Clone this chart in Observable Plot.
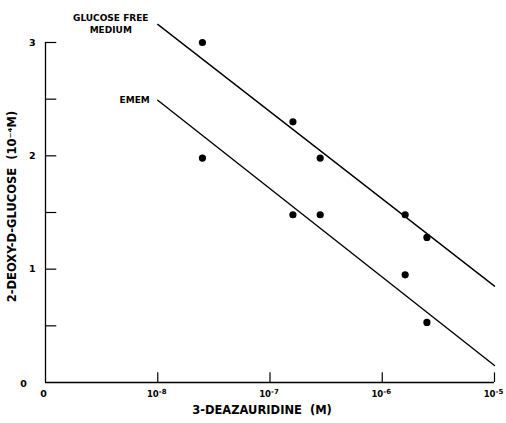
<!DOCTYPE html>
<html>
<head>
<meta charset="utf-8">
<script src="https://cdn.jsdelivr.net/npm/d3@7"></script>
<script src="https://cdn.jsdelivr.net/npm/@observablehq/plot@0.6"></script>
<style>
  html, body { margin: 0; padding: 0; background: #fff; }
  svg { display: block; }
</style>
</head>
<body>
<div id="chart"></div>
<script>
// ---- data ----
const concentrations = [2.5e-8, 1.6e-7, 2.8e-7, 1.6e-6, 2.5e-6];
const glucoseFree = [3.0, 2.3, 1.98, 1.48, 1.28];
const emem = [1.98, 1.48, 1.48, 0.95, 0.53];

const fitX = [1e-8, 1e-5];
const glucoseFreeFit = [3.16, 0.85];
const ememFit = [2.49, 0.15];

const seriesNames = ["GLUCOSE FREE\nMEDIUM", "EMEM"];

const zeroX = 1e-9;
const xTickValues = [1e-8, 1e-7, 1e-6, 1e-5];
const xTickBase = ["10", "10", "10", "10"];
const xTickExponent = ["-8", "-7", "-6", "-5"];
const yTickValues = [0.5, 1, 1.5, 2, 2.5, 3];
const yLabelValues = [1, 2, 3];
const yLabelTexts = ["1", "2", "3"];
const zeroLabel = "0";

const xTitle = "3-DEAZAURIDINE  (M)";
const yTitle = "2-DEOXY-D-GLUCOSE  (10⁻⁴M)";

// ---- tables built from arrays ----
const points = [];
concentrations.forEach((c, i) => {
  points.push({x: c, y: glucoseFree[i], s: seriesNames[0]});
  points.push({x: c, y: emem[i], s: seriesNames[1]});
});
const fits = [];
fitX.forEach((c, i) => {
  fits.push({x: c, y: glucoseFreeFit[i], s: seriesNames[0]});
  fits.push({x: c, y: ememFit[i], s: seriesNames[1]});
});
const starts = [
  {x: fitX[0], y: glucoseFreeFit[0], s: seriesNames[0]},
  {x: fitX[0], y: ememFit[0], s: seriesNames[1]}
];
const xTicks = xTickValues.map((v, i) => ({v, b: xTickBase[i], e: xTickExponent[i]}));
const yLabels = yLabelValues.map((v, i) => ({v, t: yLabelTexts[i]}));

const chart = Plot.plot({
  width: 506,
  height: 423,
  marginLeft: 45,
  marginRight: 12,
  marginTop: 42,
  marginBottom: 41,
  x: {type: "log", domain: [zeroX, 1e-5], axis: null},
  y: {domain: [0, 3], axis: null},
  style: {fontFamily: "'DejaVu Sans', sans-serif", color: "#000", background: "#fff"},
  marks: [
    // axis lines
    Plot.ruleY([0], {stroke: "#000", strokeWidth: 1.3}),
    Plot.ruleX([zeroX], {y1: 0, y2: 3, stroke: "#000", strokeWidth: 1.3}),
    // inward ticks
    Plot.ruleX(xTickValues, {x: d => d, y1: 0, y2: 0.085, stroke: "#000", strokeWidth: 1.2}),
    Plot.ruleY(yTickValues, {y: d => d, x1: zeroX, x2: 1.26e-9, stroke: "#000", strokeWidth: 1.2}),
    // x tick labels: base and raised exponent
    Plot.text(xTicks, {x: "v", y: 0, text: "b", dy: 12, dx: 1, textAnchor: "end", fontSize: 8.5, fontWeight: "bold"}),
    Plot.text(xTicks, {x: "v", y: 0, text: "e", dy: 9, dx: 1, textAnchor: "start", fontSize: 7, fontWeight: "bold"}),
    Plot.text([zeroLabel], {x: zeroX, y: 0, text: d => d, dy: 11, dx: -2, fontSize: 9.5, fontWeight: "bold"}),
    // y tick labels
    Plot.text(yLabels, {x: zeroX, y: "v", text: "t", dx: -10, textAnchor: "end", fontSize: 9.5, fontWeight: "bold"}),
    Plot.text([zeroLabel], {x: zeroX, y: 0, text: d => d, dx: -22, dy: 1, fontSize: 9.5, fontWeight: "bold"}),
    // axis titles
    Plot.text([xTitle], {frameAnchor: "bottom", text: d => d, dy: 31, dx: -8, fontSize: 11.5, fontWeight: "bold"}),
    Plot.text([yTitle], {frameAnchor: "left", textAnchor: "middle", text: d => d, rotate: -90, dx: -33, dy: -6, fontSize: 11.5, fontWeight: "bold"}),
    // fitted lines
    Plot.line(fits, {x: "x", y: "y", z: "s", stroke: "#000", strokeWidth: 1.4}),
    // data points
    Plot.dot(points, {x: "x", y: "y", r: 3.6, fill: "#000", stroke: "none"}),
    // series annotations
    Plot.text(starts.slice(0, 1), {x: "x", y: "y", text: "s", dx: -47, dy: -1, lineHeight: 1.25, fontSize: 9, fontWeight: "bold"}),
    Plot.text(starts.slice(1), {x: "x", y: "y", text: "s", dx: -8, textAnchor: "end", fontSize: 9, fontWeight: "bold"})
  ]
});
document.getElementById("chart").appendChild(chart);
</script>
</body>
</html>
